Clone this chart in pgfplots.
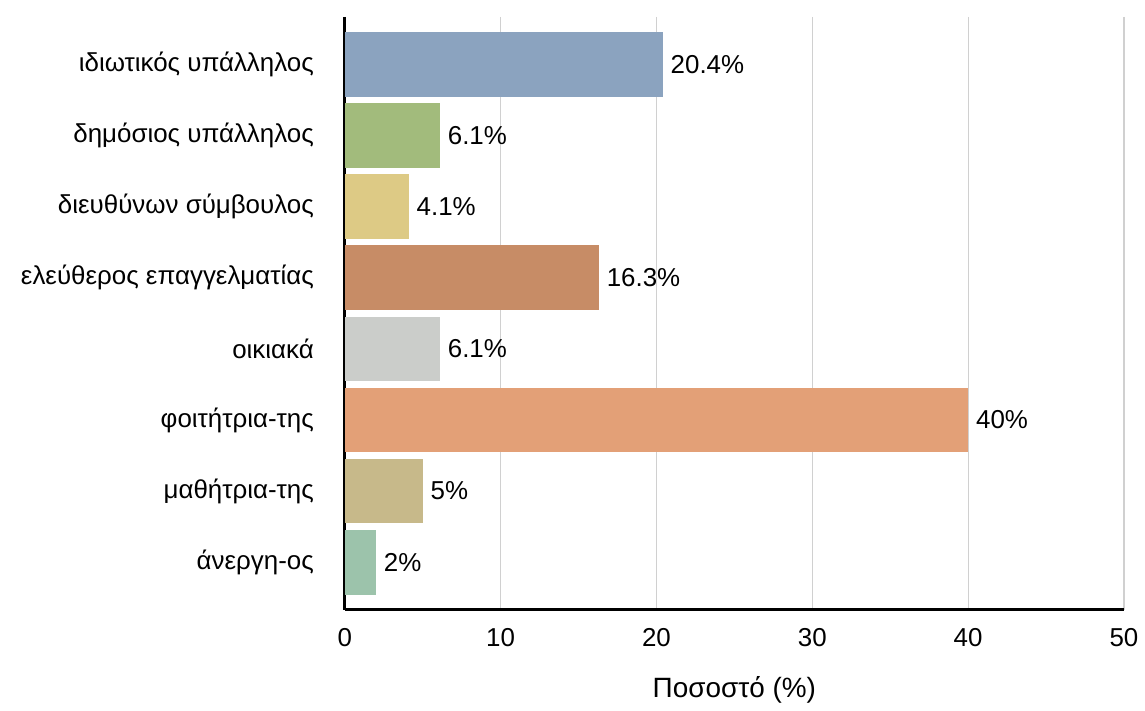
\documentclass[border=0pt]{standalone}
\usepackage{fontspec}
\setmainfont{Liberation Sans}
\usepackage{pgfplots}
\pgfplotsset{compat=1.18}
\usetikzlibrary{calc}

\definecolor{c1}{HTML}{8BA3BF}
\definecolor{c2}{HTML}{A2BB7C}
\definecolor{c3}{HTML}{DDCA85}
\definecolor{c4}{HTML}{C78C66}
\definecolor{c5}{HTML}{CBCDCA}
\definecolor{c6}{HTML}{E3A077}
\definecolor{c7}{HTML}{C7B98A}
\definecolor{c8}{HTML}{9CC3AB}
\definecolor{gridgray}{HTML}{D0D0D0}

\begin{document}
\begin{tikzpicture}
\begin{axis}[
  scale only axis,
  width=391pt, height=297.5pt,
  font=\fontsize{13}{15}\selectfont,
  /pgf/number format/assume math mode=true,
  xmin=0, xmax=50,
  ymin=-0.67, ymax=7.67,
  y dir=reverse,
  xtick={0,10,20,30,40,50},
  ytick={0,1,2,3,4,5,6,7},
  yticklabels={ιδιωτικός υπάλληλος, δημόσιος υπάλληλος, διευθύνων σύμβουλος, ελεύθερος επαγγελματίας, οικιακά, φοιτήτρια-της, μαθήτρια-της, άνεργη-ος},
  axis x line*=bottom, axis y line*=left,
  axis line style={line width=1.5pt, -},
  major tick length=0pt,
  xmajorgrids, grid style={gridgray, line width=0.6pt},
  yticklabel style={xshift=-12pt},
  xticklabel style={yshift=-6pt},
  xlabel={Ποσοστό (\%)},
  xlabel style={yshift=-8pt, font=\fontsize{14}{16}\selectfont},
  xbar, bar width=0.91, bar shift=0pt,
  point meta=x,
  nodes near coords={\pgfmathprintnumber{\pgfplotspointmeta}\%},
  nodes near coords style={font=\fontsize{13}{15}\selectfont, anchor=west, xshift=0.5pt},
  clip=false,
]
\addplot[draw=none, fill=c1] coordinates {(20.4,0)};
\addplot[draw=none, fill=c2] coordinates {(6.1,1)};
\addplot[draw=none, fill=c3] coordinates {(4.1,2)};
\addplot[draw=none, fill=c4] coordinates {(16.3,3)};
\addplot[draw=none, fill=c5] coordinates {(6.1,4)};
\addplot[draw=none, fill=c6] coordinates {(40,5)};
\addplot[draw=none, fill=c7] coordinates {(5,6)};
\addplot[draw=none, fill=c8] coordinates {(2,7)};
\path ($(rel axis cs:0,0)+(-173pt,-44pt)$) rectangle ($(rel axis cs:1,1)+(8.5pt,8.5pt)$);
\end{axis}
\end{tikzpicture}
\end{document}
